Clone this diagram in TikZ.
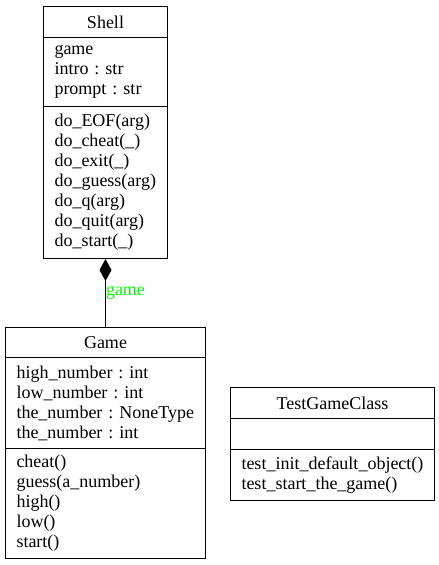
\documentclass[tikz,border=0pt]{standalone}
\usepackage{fontspec}
\setmainfont{Liberation Serif}
\usepackage{tikz}
\usetikzlibrary{arrows.meta,positioning}
\frenchspacing
\hyphenpenalty=10000
\exhyphenpenalty=10000

\begin{document}
\begin{tikzpicture}[
      x=1pt, y=-1pt,
      font=\fontsize{18}{20}\selectfont,
      part/.style={draw, line width=1pt, anchor=north west, inner xsep=11pt, inner ysep=0pt, align=left},
      title/.style={part, align=center},
      assoc/.style={{Diamond[length=22pt, width=12pt]}-, line width=1pt},
      role/.style={text=green, anchor=west, inner sep=0pt}
    ]
    \useasboundingbox (0,0) rectangle (439,565);

    \node[title, text width=102pt, minimum height=31pt] (shell) at (43,6) {Shell};
    \node[part, text width=102pt, minimum height=69pt] (shellattrs) at (43,37)
      {game\\intro : str\\prompt : str};
    \node[part, text width=102pt, minimum height=152pt] (shellops) at (43,106)
      {do\_EOF(arg)\\do\_cheat(\_)\\do\_exit(\_)\\do\_guess(arg)\\do\_q(arg)\\do\_quit(arg)\\do\_start(\_)};

    \node[title, text width=178pt, minimum height=30pt] (game) at (5,327) {Game};
    \node[part, text width=178pt, minimum height=91pt] (gameattrs) at (5,357)
      {high\_number : int\\low\_number : int\\the\_number : NoneType\\the\_number : int};
    \node[part, text width=178pt, minimum height=110pt] (gameops) at (5,448)
      {cheat()\\guess(a\_number)\\high()\\low()\\start()};

    \node[title, text width=182pt, minimum height=31pt] (test) at (230,387) {TestGameClass};
    \node[part, text width=182pt, minimum height=31pt] (testattrs) at (230,418) {};
    \node[part, text width=182pt, minimum height=51pt] (testops) at (230,449)
      {test\_init\_default\_object()\\test\_start\_the\_game()};

    \draw[assoc] (shellops.south) -- node[role, pos=0.49] {game} (game.north);
  \end{tikzpicture}
\end{document}
